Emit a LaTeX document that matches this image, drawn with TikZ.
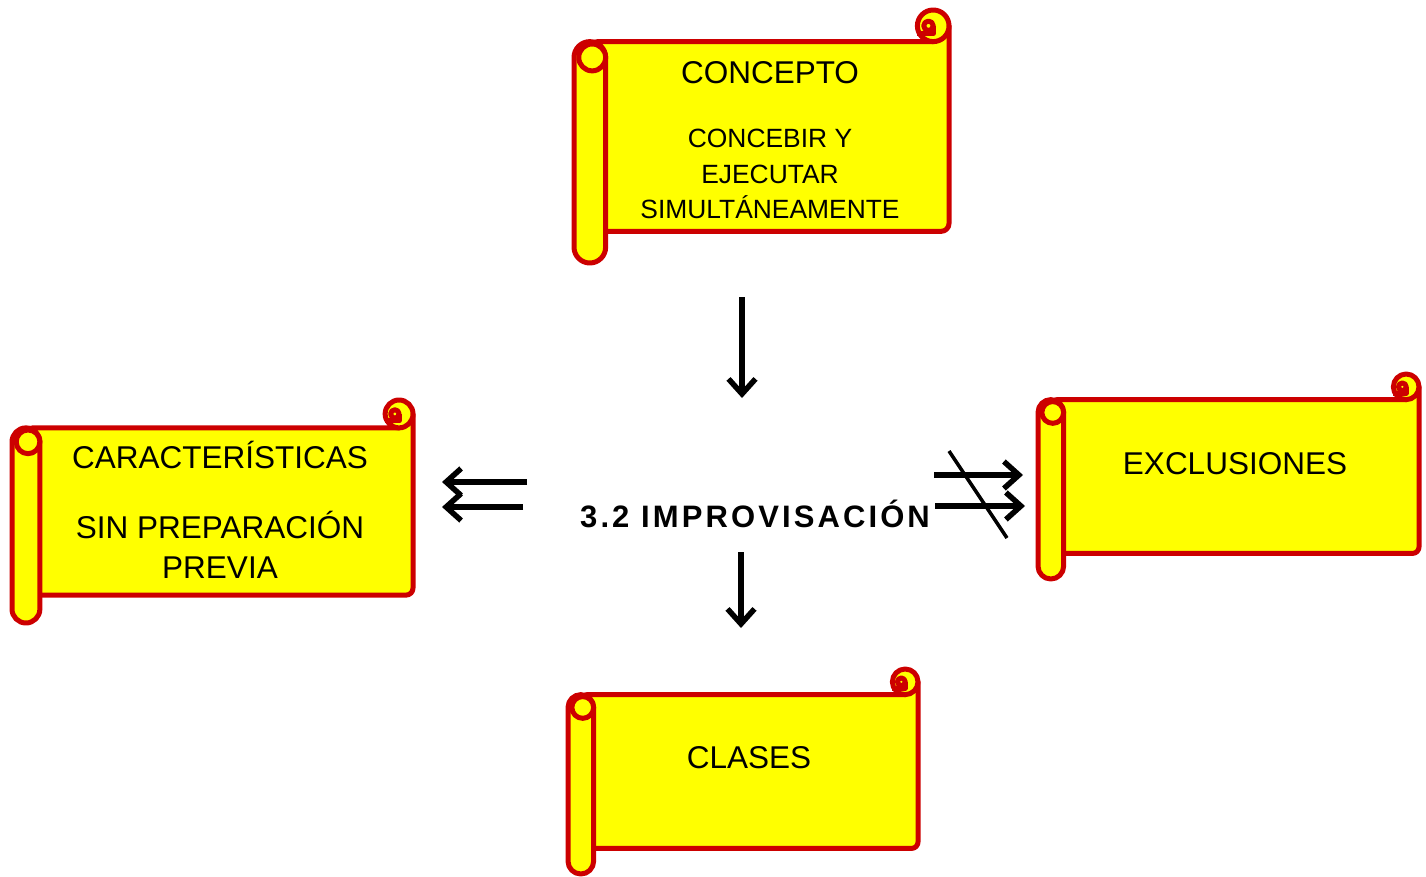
\documentclass[tikz,border=0pt]{standalone}
\usepackage{fontspec}
\setmainfont{Liberation Sans}
\newfontfamily\widefont[LetterSpace=10]{Liberation Sans}
\usetikzlibrary{arrows.meta}

\definecolor{scrollred}{RGB}{204,0,0}
\definecolor{scrollyellow}{RGB}{255,255,0}

\tikzset{
  scrollline/.style={draw=scrollred, fill=scrollyellow, line width=5pt, line join=round},
  bigtext/.style={font=\fontsize{31.5}{38}\selectfont, anchor=base, inner sep=0pt},
  smalltext/.style={font=\fontsize{26.4}{32}\selectfont, anchor=base, inner sep=0pt},
  arrowline/.style={line width=5.5pt, -{Straight Barb[length=15pt,width=27pt]}}
}

% scroll: left, top, right, bottom
\newcommand{\scrollbox}[4]{%
  \pgfmathsetmacro{\rollw}{0.125*min(#3-#1,#4-#2)}
  \pgfmathsetmacro{\rollh}{\rollw/2}
  \pgfmathsetmacro{\rollq}{\rollw/4}
  \draw[scrollline] ({#1+\rollh},{#2+\rollw}) -- ({#3-\rollh},{#2+\rollw}) -- ({#3-\rollh},{#2+\rollh})
    -- (#3,{#2+\rollh}) [rounded corners=\rollq pt] -- (#3,{#4-\rollw}) -- ({#1+\rollh},{#4-\rollw}) -- cycle;
  \draw[scrollline] ({#3-\rollh},{#2+\rollh}) circle[radius=\rollh];
  \draw[scrollline, fill=none] ({#3-\rollw},{#2+\rollw-\rollq}) -- ({#3-\rollh},{#2+\rollw-\rollq}) -- ({#3-\rollh},{#2+\rollh});
  \draw[scrollline] ({#3-\rollh-0.6*\rollq},{#2+\rollh}) circle[radius=0.6*\rollq];
  \draw[scrollline, rounded corners=\rollh pt] (#1,{#2+\rollw}) rectangle ({#1+\rollw},#4);
  \draw[scrollline] ({#1+\rollw-0.85*\rollh},{#2+\rollw+\rollh}) circle[radius=0.85*\rollh];
}

\begin{document}
\begin{tikzpicture}[x=1pt, y=-1pt]
  \useasboundingbox (0,0) rectangle (1426,877);

  \scrollbox{574}{10}{949}{263}
  \scrollbox{12}{400}{413}{623}
  \scrollbox{1038}{374}{1419}{579}
  \scrollbox{568}{669}{918}{874}

  \node[bigtext] (concepto) at (770,84) {CONCEPTO};
  \node[smalltext] (concebir) at (770,148) {CONCEBIR Y};
  \node[smalltext] (ejecutar) at (770,184) {EJECUTAR};
  \node[smalltext] (simult) at (770,219) {SIMULTÁNEAMENTE};
  \node[bigtext] (caract) at (220,468) {CARACTERÍSTICAS};
  \node[bigtext] (sinprep) at (220,538) {SIN PREPARACIÓN};
  \node[bigtext] (previa) at (220,578) {PREVIA};
  \node[bigtext] (exclus) at (1235,474) {EXCLUSIONES};
  \node[bigtext] (clases) at (749,768) {CLASES};
  \node[anchor=base west, inner sep=0pt, font=\widefont\bfseries\fontsize{31}{36}\selectfont]
    (impro) at (580,527) {3.2 IMPROVISACIÓN};

  \coordinate (a1s) at (742,297);  \coordinate (a1e) at (742,398);
  \coordinate (a2s) at (741,552);  \coordinate (a2e) at (741,628);
  \coordinate (l1s) at (527,482);  \coordinate (l1e) at (442,482);
  \coordinate (l2s) at (523,507);  \coordinate (l2e) at (442,507);
  \coordinate (r1s) at (934,475);  \coordinate (r1e) at (1023,475);
  \coordinate (r2s) at (935,506);  \coordinate (r2e) at (1025,506);
  \coordinate (x1) at (949,451);   \coordinate (x2) at (1007,538);

  \path[arrowline]
    (a1s) edge (a1e)
    (a2s) edge (a2e)
    (l1s) edge (l1e)
    (l2s) edge (l2e)
    (r1s) edge (r1e)
    (r2s) edge (r2e);
  % crossed out
  \draw[line width=3.5pt] (x1) -- (x2);
\end{tikzpicture}
\end{document}
